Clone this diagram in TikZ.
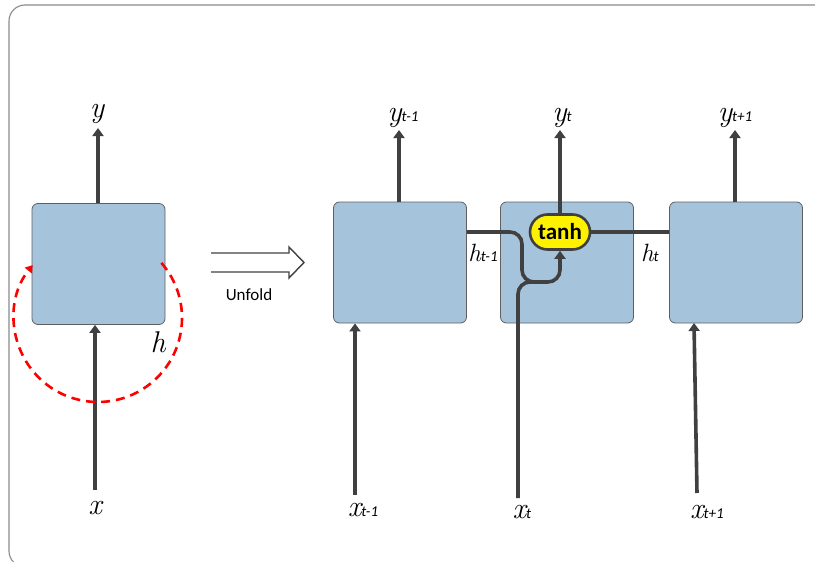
\documentclass[tikz,border=0pt]{standalone}
\usepackage{fontspec}
\newfontfamily\calib{Carlito}
\usetikzlibrary{arrows.meta,shapes.misc}
\definecolor{cellblue}{HTML}{A6C3DC}
\definecolor{lineg}{HTML}{404040}
\definecolor{framegray}{HTML}{8A8A8A}
\begin{document}
\begin{tikzpicture}[x=1pt,y=-1pt,
  cell/.style={draw=gray!75!black, fill=cellblue, rounded corners=6pt, minimum width=133pt, minimum height=121pt, line width=0.8pt, inner sep=0pt},
  ln/.style={line width=3.6pt, draw=lineg},
  arr/.style={ln, -{Triangle[width=11pt,length=8pt]}},
  lab/.style={inner sep=0pt, font=\fontsize{30}{30}\selectfont\itshape},
  hlab/.style={inner sep=0pt, font=\fontsize{25}{25}\selectfont\itshape},
  gate/.style={rounded rectangle, draw=lineg, line width=2.6pt, fill=yellow, minimum width=60pt, minimum height=35pt, inner sep=0pt, font=\calib\bfseries\fontsize{23}{23}\selectfont}
]
\newcommand{\sbs}[1]{{\fontsize{15}{15}\selectfont\calib\itshape #1}}
\useasboundingbox (0,0) rectangle (815,562);
\clip (0,0) rectangle (815,562);
% frame
\draw[framegray, line width=1.1pt, rounded corners=16pt] (9,5) rectangle (840,567);

% left folded cell
\node[cell] (L) at (98.5,264) {};
\node[lab] (ly) at (97,114) {y};
\node[lab] (lx) at (95,508) {x};
\node[lab] (lh) at (158,342) {h};
\draw[arr] (L.north -| 98,0) -- (98,128);
\draw[arr] (95,490) -- (L.south -| 95,0);
\coordinate (lc) at (98,318);
\draw[red, line width=2.6pt, dash pattern=on 9pt off 6pt, -{Triangle[width=9pt,length=7pt]}]
  (lc) ++(41:84pt) arc[start angle=41, end angle=-219, radius=84pt];

% unfold arrow
\node[inner sep=0pt, font=\calib\fontsize{17}{17}\selectfont] (unf) at (249,295) {Unfold};
\draw[lineg, line width=1.4pt, line join=miter]
  (211,253) -- (289,253) -- (289,247) -- (304,262.5) -- (289,278) -- (289,272) -- (211,272);

% unrolled cells
\node[cell] (A) at (400,262.5) {};
\node[cell] (B) at (567,262.5) {};
\node[cell] (C) at (736,262.5) {};
\node[gate] (tanh) at (560,232) {tanh};

% labels
\node[lab] (y1) at (403,118) {y\sbs{t-1}};
\node[lab] (y2) at (562,118) {y\sbs{t}};
\node[lab] (y3) at (735,118) {y\sbs{t+1}};
\node[lab] (x1) at (363,510) {x\sbs{t-1}};
\node[lab] (x2) at (522,512) {x\sbs{t}};
\node[lab] (x3) at (707,512) {x\sbs{t+1}};
\node[hlab] (h1) at (483,253) {h\sbs{t-1}};
\node[hlab] (h2) at (650,253) {h\sbs{t}};

% outputs
\draw[arr] (A.north -| 399,0) -- (399,130);
\draw[arr] (tanh.north) -- (560,130);
\draw[arr] (C.north -| 735,0) -- (735,130);

% inputs
\draw[arr] (355,495) -- (A.south -| 355,0);
\draw[arr] (697,493) -- (694,323);
\draw[ln, rounded corners=12pt] (518,498) -- (518,282) -- (545,282);

% recurrent connections
\draw[arr, rounded corners=12pt] (A.east |- tanh.center) -- (522,232) -- (522,282) -- (560,282) -- (tanh.south);
\draw[ln] (tanh.east) -- (C.west |- tanh.east);
\end{tikzpicture}
\end{document}
